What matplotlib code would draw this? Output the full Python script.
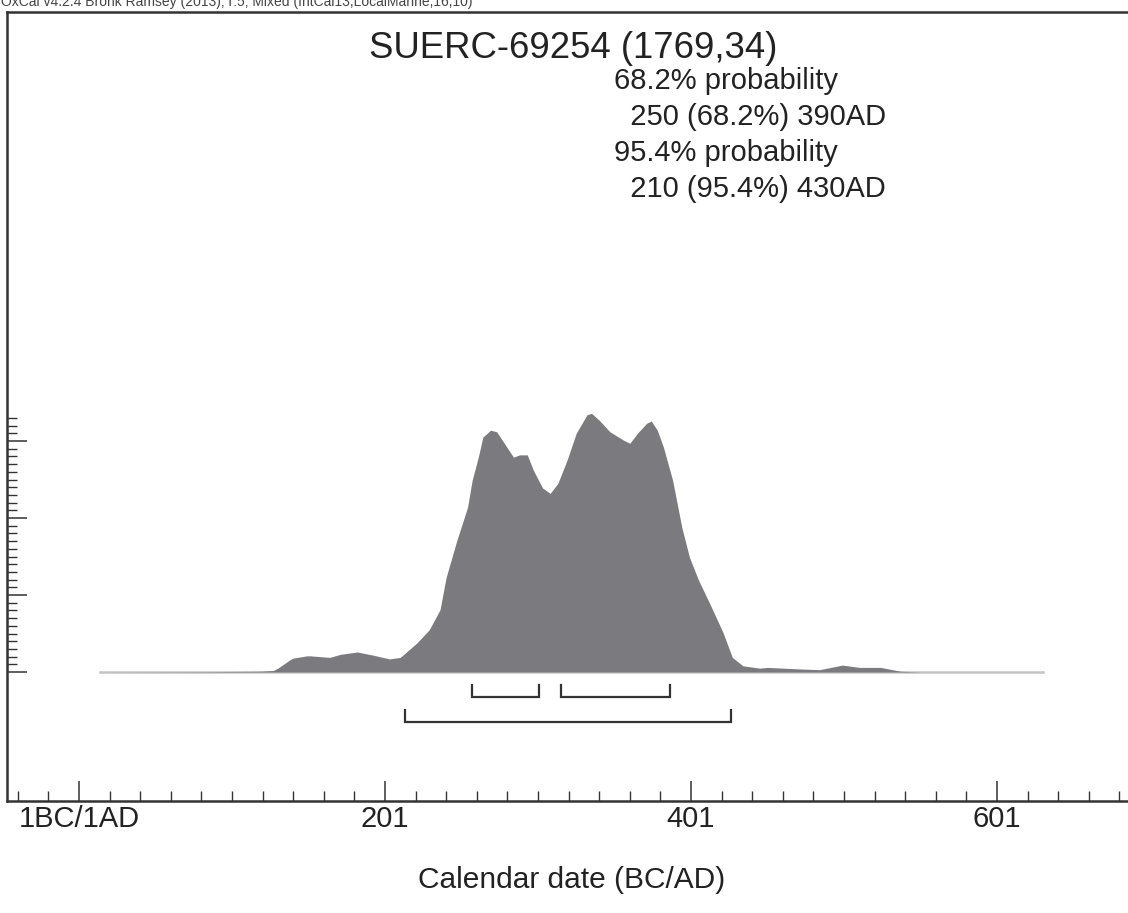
import numpy as np
import matplotlib
matplotlib.use("Agg")
import matplotlib.pyplot as plt
from matplotlib.ticker import FixedLocator

plt.rcParams['font.family'] = ['Liberation Sans', 'DejaVu Sans']

# calendar year (AD) and relative probability
years = [14, 80, 118, 127, 130, 138, 140, 149, 151, 164, 171, 182, 192, 203,
         210, 221, 229, 236, 240, 247, 254, 257, 261, 264, 269, 273, 278, 284,
         288, 293, 297, 303, 308, 313, 319, 325, 332, 335, 340, 347, 356, 360,
         365, 371, 374, 378, 382, 388, 394, 399, 405, 412, 421, 427, 434, 445,
         450, 471, 484, 499, 510, 524, 537, 550, 630]
prob = [0, 0.004, 0.01, 0.02, 0.05, 0.16, 0.18, 0.21, 0.21, 0.19, 0.23, 0.26,
        0.22, 0.17, 0.19, 0.38, 0.55, 0.81, 1.23, 1.71, 2.14, 2.49, 2.79, 3.05,
        3.14, 3.12, 2.97, 2.79, 2.82, 2.82, 2.62, 2.39, 2.32, 2.45, 2.75, 3.10,
        3.34, 3.36, 3.27, 3.12, 3.01, 2.97, 3.10, 3.23, 3.26, 3.14, 2.92, 2.49,
        1.88, 1.49, 1.19, 0.90, 0.51, 0.19, 0.08, 0.05, 0.06, 0.04, 0.03, 0.09,
        0.06, 0.06, 0.01, 0, 0]

range68 = [(257, 301), (315, 386)]
range95 = [(213, 426)]

xtick_pos = [0, 200, 400, 600]
xtick_labels = ['1BC/1AD', '201', '401', '601']

title = 'SUERC-69254 (1769,34)'
summary = ['68.2% probability', '  250 (68.2%) 390AD',
           '95.4% probability', '  210 (95.4%) 430AD']
header = 'OxCal v4.2.4 Bronk Ramsey (2013); r:5; Mixed (IntCal13,LocalMarine,16,10)'

W, H = 1128, 913
fig = plt.figure(figsize=(W / 100, H / 100), dpi=100)
ax = fig.add_axes([7 / W, (H - 801) / H, (1150 - 7) / W, (801 - 12) / H])
ax.set_xlim(-47, 700)
ax.set_ylim(-1.675, 8.571)

edge = '#333333'
ax.plot([years[0], years[-1]], [0, 0], color='#c4c4c4', lw=1.8, zorder=1)
ax.fill_between(years, 0, prob, color='#7b7b7f', lw=0, zorder=2)


def bracket(lo, hi, y, tip):
    ax.plot([lo, lo, hi, hi], [y + tip, y, y, y + tip], color=edge, lw=1.6,
            solid_joinstyle='miter')


for lo, hi in range68:
    bracket(lo, hi, -0.325, 0.16)
for lo, hi in range95:
    bracket(lo, hi, -0.649, 0.16)

for s in ax.spines.values():
    s.set_color(edge)
    s.set_linewidth(1.8)

ax.xaxis.set_major_locator(FixedLocator(xtick_pos))
ax.set_xticklabels(xtick_labels)
ax.xaxis.set_minor_locator(FixedLocator(np.arange(-40, 700, 20)))
ax.yaxis.set_major_locator(FixedLocator([0, 1, 2, 3]))
ax.yaxis.set_minor_locator(FixedLocator(np.arange(0, 3.35, 0.1)))
ax.set_yticklabels([])
ax.tick_params(axis='both', which='major', direction='in', length=14.4,
               width=1.1, color=edge)
ax.tick_params(axis='both', which='minor', direction='in', length=7.2,
               width=1.0, color=edge)
ax.tick_params(axis='x', which='major', labelsize=21, pad=3,
               labelcolor='#222222')

# texts placed in figure pixels
fig.text(573 / W, 1 - 48 / H, title, ha='center', va='center', fontsize=26.3,
         color='#222222')
line_y = [81, 117, 153, 189]
for txt, yy in zip(summary, line_y):
    fig.text(614 / W, 1 - yy / H, txt, ha='left', va='center', fontsize=21,
             color='#222222')

fig.text(572 / W, 1 - 880 / H, 'Calendar date (BC/AD)', ha='center',
         va='center', fontsize=21.5, color='#222222')
fig.text(1 / W, 1 - 2 / H, header, ha='left', va='center', fontsize=10,
         color='#444444')

fig.savefig('out.png', dpi=100)
